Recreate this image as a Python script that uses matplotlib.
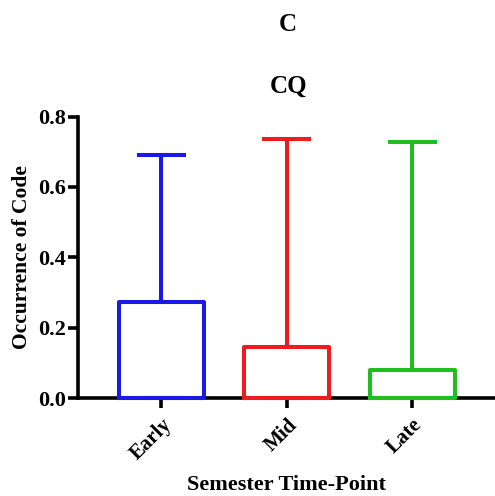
import matplotlib
matplotlib.use("Agg")
import matplotlib.pyplot as plt

plt.rcParams['font.family'] = ['Liberation Serif', 'DejaVu Serif']
plt.rcParams['font.weight'] = 'bold'

groups = ["Early", "Mid", "Late"]
colors = ["#1a1ae6", "#ee1c1c", "#1fbf1f"]
q1 = [0.0, 0.0, 0.0]
med = [0.0, 0.0, 0.0]
q3 = [0.274, 0.147, 0.080]
wmin = [0.0, 0.0, 0.0]
wmax = [0.691, 0.736, 0.729]

fig = plt.figure(figsize=(4.95, 4.96), dpi=100)
ax = fig.add_axes([0.158, 0.197, 0.842, 0.568])

stats = []
for i in range(len(groups)):
    stats.append({"label": groups[i], "q1": q1[i], "med": med[i], "q3": q3[i],
                  "whislo": wmin[i], "whishi": wmax[i], "fliers": []})

lw = 2.9
for i, s in enumerate(stats):
    c = colors[i]
    art = ax.bxp([s], positions=[i + 1], widths=0.68, showfliers=False,
                 boxprops=dict(color=c, linewidth=lw),
                 whiskerprops=dict(color=c, linewidth=lw),
                 capprops=dict(color=c, linewidth=lw),
                 medianprops=dict(color=c, linewidth=lw),
                 capwidths=0.36)
    for key in art:
        for a in art[key]:
            a.set_clip_on(False)
            a.set_zorder(3)

ax.set_xlim(0.337, 3.66)
ax.set_ylim(0, 0.8)
ax.set_yticks([0.0, 0.2, 0.4, 0.6, 0.8])
ax.set_yticklabels(["0.0", "0.2", "0.4", "0.6", "0.8"])
ax.set_xticks([1, 2, 3])
ax.set_xticklabels(groups, rotation=45, ha="right", rotation_mode="anchor")

for side in ["top", "right"]:
    ax.spines[side].set_visible(False)
for side in ["left", "bottom"]:
    ax.spines[side].set_linewidth(2.6)
    ax.spines[side].set_zorder(1)
ax.tick_params(axis="both", width=2.6, length=7, direction="out")
ax.tick_params(axis="y", labelsize=16, pad=2)
ax.tick_params(axis="x", labelsize=15, pad=5)

ax.set_ylabel("Occurrence of Code", fontsize=15.5, fontweight="bold", labelpad=4)
ax.set_xlabel("Semester Time-Point", fontsize=16, fontweight="bold", labelpad=8)

fig.text(0.582, 0.950, "C", ha="center", va="center", fontsize=18, fontweight="bold")
fig.text(0.582, 0.827, "CQ", ha="center", va="center", fontsize=18, fontweight="bold")

fig.savefig("out.png", dpi=100)
